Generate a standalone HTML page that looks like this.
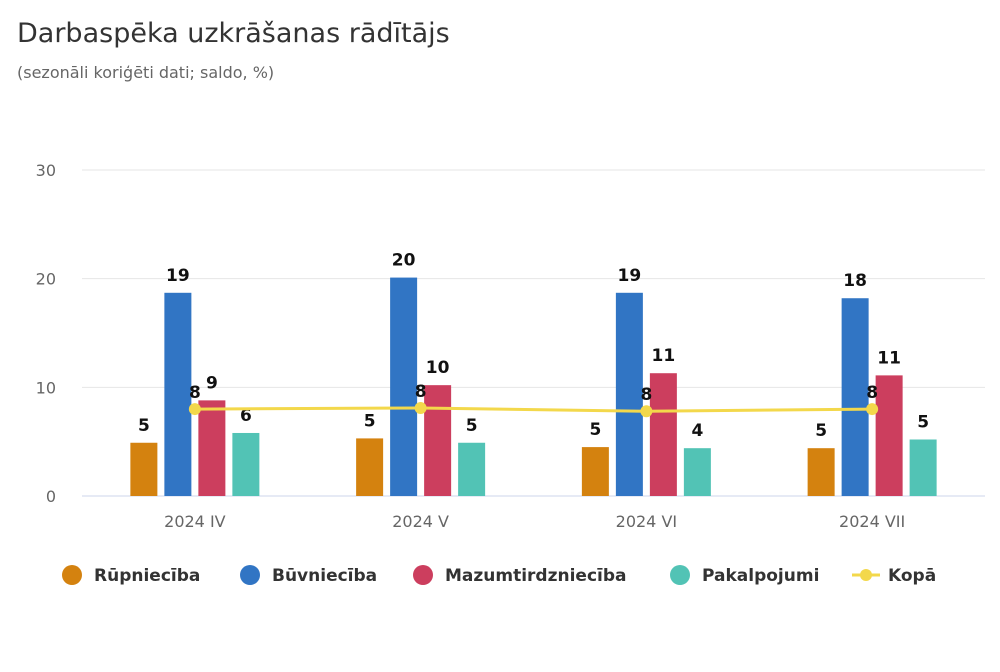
<!DOCTYPE html>
<html><head><meta charset="utf-8"><style>
body{margin:0;background:#fff;width:1000px;height:667px;overflow:hidden;font-family:"Liberation Sans","DejaVu Sans",sans-serif}
</style></head><body>
<svg id="c" width="1000" height="667" xmlns="http://www.w3.org/2000/svg">
<text x="17" y="42" font-size="27" fill="#333" font-family="DejaVu Sans, sans-serif">Darbaspēka uzkrāšanas rādītājs</text>
<text x="17" y="78" font-size="16" fill="#666" font-family="DejaVu Sans, sans-serif">(sezonāli koriģēti dati; saldo, %)</text>
<g id="grid"></g><g id="bars"></g><g id="line"></g><g id="legend"></g>
</svg>
<script>
const categories=["2024 IV","2024 V","2024 VI","2024 VII"];
const yTicks=[0,10,20,30];
const rupn=[4.9,5.3,4.5,4.4];
const buvn=[18.7,20.1,18.7,18.2];
const mazu=[8.8,10.2,11.3,11.1];
const paka=[5.8,4.9,4.4,5.2];
const kopa=[8.0,8.1,7.8,8.0];
const rupnLbl=["5","5","5","5"];
const buvnLbl=["19","20","19","18"];
const mazuLbl=["9","10","11","11"];
const pakaLbl=["6","5","4","5"];
const kopaLbl=["8","8","8","8"];
const NS="http://www.w3.org/2000/svg";
const X0=82,X1=985,Y0=496,Y30=170;
const y=v=>Y0-(v/30)*(Y0-Y30);
const cw=(X1-X0)/categories.length;
const xc=i=>X0+cw*(i+0.5);
function mk(t,a,p){const e=document.createElementNS(NS,t);for(const k in a)e.setAttribute(k,a[k]);p.appendChild(e);return e;}
const grid=document.getElementById('grid');
yTicks.forEach(t=>{
 const l=mk('line',{x1:X0,x2:X1,y1:y(t),y2:y(t),stroke:t===0?'#ccd6eb':'#e6e6e6','stroke-width':1},grid);
 
 
 const tx=mk('text',{x:56,y:y(t)+6,'text-anchor':'end','font-size':16,fill:'#666','font-family':'DejaVu Sans, sans-serif'},grid);
 tx.textContent=t;
 
 
});
categories.forEach((c,i)=>{
 const tx=mk('text',{x:xc(i),y:527,'text-anchor':'middle','font-size':16,fill:'#666','font-family':'DejaVu Sans, sans-serif'},grid);
 tx.textContent=c;
 
 
});
const series=[[rupn,rupnLbl,'#d4820f','rupniecība'],[buvn,buvnLbl,'#3175c4','buvnieciba'],[mazu,mazuLbl,'#cc3e5e','mazumtirdznieciba'],[paka,pakaLbl,'#52c3b5','pakalpojumi']];
const bars=document.getElementById('bars');
const BW=27,STEP=34;
series.forEach((s,si)=>{
 s[0].forEach((v,i)=>{
  const cx=xc(i)+(si-1.5)*STEP;
  const r=mk('rect',{x:cx-BW/2,y:y(v),width:BW,height:Y0-y(v),fill:s[2]},bars);
  
  
  const t=mk('text',{x:cx,y:y(v)-12,'text-anchor':'middle','font-size':17,'font-weight':'bold',fill:'#111','font-family':'DejaVu Sans, sans-serif'},bars);
  t.textContent=s[1][i];
  
  
 });
});
const lg=document.getElementById('line');
const p=mk('polyline',{points:kopa.map((v,i)=>xc(i)+','+y(v)).join(' '),fill:'none',stroke:'#f3d84b','stroke-width':3},lg);


kopa.forEach((v,i)=>{
 const c=mk('circle',{cx:xc(i),cy:y(v),r:6,fill:'#f3d84b'},lg);
 
 
 const t=mk('text',{x:xc(i),y:y(v)-11,'text-anchor':'middle','font-size':17,'font-weight':'bold',fill:'#111','font-family':'DejaVu Sans, sans-serif'},lg);
 t.textContent=kopaLbl[i];
 
 
});
const leg=document.getElementById('legend');
const items=[['Rūpniecība','#d4820f',72,0],['Būvniecība','#3175c4',250,0],['Mazumtirdzniecība','#cc3e5e',423,0],['Pakalpojumi','#52c3b5',680,0],['Kopā','#f3d84b',866,1]];
items.forEach(it=>{
 const g=mk('g',{},leg);
 
 
 if(it[3]) mk('line',{x1:it[2]-14,x2:it[2]+14,y1:575,y2:575,stroke:it[1],'stroke-width':3},g);
 mk('circle',{cx:it[2],cy:575,r:it[3]?6:10,fill:it[1]},g);
 const t=mk('text',{x:it[2]+22,y:581,'font-size':17,'font-weight':'bold',fill:'#333','font-family':'DejaVu Sans, sans-serif'},g);
 t.textContent=it[0];
});
</script>
</body></html>
